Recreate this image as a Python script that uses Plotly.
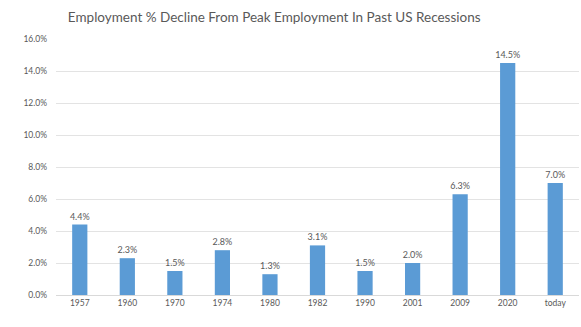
import plotly.graph_objects as go

# Recession episodes and peak-to-trough employment decline (%)
periods = ["1957", "1960", "1970", "1974", "1980", "1982", "1990", "2001", "2009", "2020", "today"]
decline_pct = [4.4, 2.3, 1.5, 2.8, 1.3, 3.1, 1.5, 2.0, 6.3, 14.5, 7.0]
y_ticks = [0, 2, 4, 6, 8, 10, 12, 14, 16]

FONT = "Lato, 'Open Sans', sans-serif"
GREY = "#595959"

fig = go.Figure(
    go.Bar(
        x=periods,
        y=decline_pct,
        marker=dict(color="#5B9BD5", line=dict(width=0)),
        text=[f"{v:.1f}%" for v in decline_pct],
        textposition="outside",
        constraintext="none",
        textfont=dict(family=FONT, size=9, color=GREY),
        cliponaxis=False,
    )
)

fig.update_layout(
    width=581,
    height=327,
    margin=dict(l=56, r=2, t=39, b=32),
    paper_bgcolor="white",
    plot_bgcolor="white",
    bargap=0.68,
    showlegend=False,
    title=dict(
        text="Employment % Decline From Peak Employment In Past US Recessions",
        x=0.472,
        xanchor="center",
        y=0.948,
        yanchor="middle",
        font=dict(family=FONT, size=13.5, color=GREY),
    ),
    xaxis=dict(
        type="category",
        showline=True,
        linecolor="#d9d9d9",
        linewidth=1,
        ticks="",
        tickfont=dict(family=FONT, size=8.5, color=GREY),
        showgrid=False,
    ),
    yaxis=dict(
        range=[0, 16],
        tickvals=y_ticks,
        ticktext=[f"{v:.1f}%" for v in y_ticks],
        tickfont=dict(family=FONT, size=8.5, color=GREY),
        showgrid=True,
        gridcolor="#e3e3e3",
        gridwidth=1,
        zeroline=False,
        showline=False,
        ticks="",
        ticklabelstandoff=8,
    ),
)

fig.write_html("out.html")
